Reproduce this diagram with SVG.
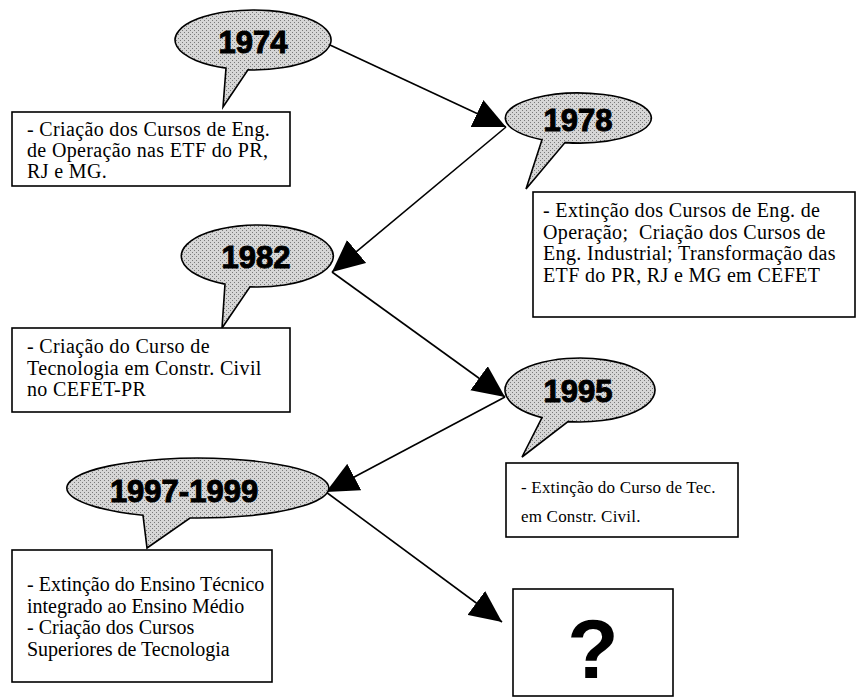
<svg xmlns="http://www.w3.org/2000/svg" width="861" height="697" viewBox="0 0 861 697">
<style>
.box{fill:#fff;stroke:#000;stroke-width:1.6}
.bub{fill:url(#dots);stroke:#000;stroke-width:1.6;stroke-linejoin:miter}
.yr{font-family:"Liberation Sans",Arial,sans-serif;font-weight:bold;font-size:31px;fill:#000;stroke:#000;stroke-width:1;text-anchor:middle}
.tx{font-family:"Liberation Serif","Times New Roman",serif;font-size:20px;letter-spacing:0.35px;fill:#000;white-space:pre}
.con{stroke:#000;stroke-width:1.6;fill:none;marker-end:url(#ah)}
</style>
<defs>
<pattern id="dots" width="4" height="4" patternUnits="userSpaceOnUse">
<rect width="4" height="4" fill="#d6d6d6"/>
<rect x="0" y="0" width="1" height="1" fill="#7a7a7a"/>
<rect x="2" y="2" width="1" height="1" fill="#7a7a7a"/>
</pattern>
<marker id="ah" markerUnits="userSpaceOnUse" markerWidth="32" markerHeight="30" viewBox="0 0 30 28" refX="30" refY="14" orient="auto">
<path d="M0,0 L30,14 L0,28 Z" fill="#000"/>
</marker>
</defs>
<rect width="861" height="697" fill="#fff"/>

<g id="connectors">
<line class="con" x1="330" y1="45" x2="506" y2="127"/>
<line class="con" x1="506" y1="127" x2="332" y2="272"/>
<line class="con" x1="332" y1="272" x2="505" y2="397"/>
<line class="con" x1="505" y1="397" x2="326" y2="492"/>
<line class="con" x1="326" y1="492" x2="502" y2="622"/>
</g>

<g id="bubble1974">
<path class="bub" d="M226,68.1 L223,107 L248,69.9 A78,30 0 1 0 226,68.1 Z"/>
<text class="yr" x="253" y="53">1974</text>
</g>
<g id="box1974">
<rect class="box" x="12" y="112" width="278" height="74"/>
<text class="tx" x="27" y="136">- Criação dos Cursos de Eng.</text>
<text class="tx" x="27" y="157">de Operação nas ETF do PR,</text>
<text class="tx" x="27" y="178">RJ e MG.</text>
</g>

<g id="bubble1978">
<path class="bub" d="M542,139.7 L526,189 L565,142.6 A73,25 0 1 0 542,139.7 Z"/>
<text class="yr" x="578" y="131">1978</text>
</g>
<g id="box1978">
<rect class="box" x="533" y="192" width="322" height="125"/>
<text class="tx" x="543" y="217">- Extinção dos Cursos de Eng. de</text>
<text class="tx" x="543" y="238.5">Operação;  Criação dos Cursos de</text>
<text class="tx" x="543" y="260">Eng. Industrial; Transformação das</text>
<text class="tx" x="543" y="281.5">ETF do PR, RJ e MG em CEFET</text>
</g>

<g id="bubble1982">
<path class="bub" d="M225,284.1 L222,328 L250,286.9 A76,31 0 1 0 225,284.1 Z"/>
<text class="yr" x="256" y="268">1982</text>
</g>
<g id="box1982">
<rect class="box" x="12" y="328" width="278" height="84"/>
<text class="tx" x="27" y="353">- Criação do Curso de</text>
<text class="tx" x="27" y="374.5">Tecnologia em Constr. Civil</text>
<text class="tx" x="27" y="396">no CEFET-PR</text>
</g>

<g id="bubble1995">
<path class="bub" d="M542,417.6 L522,457 L568,421.6 A75,32 0 1 0 542,417.6 Z"/>
<text class="yr" x="578" y="402">1995</text>
</g>
<g id="box1995">
<rect class="box" x="506" y="463" width="232" height="74"/>
<text class="tx" x="521" y="493" style="font-size:17px;letter-spacing:0.2px">- Extinção do Curso de Tec.</text>
<text class="tx" x="521" y="522" style="font-size:17px;letter-spacing:0.2px">em Constr. Civil.</text>
</g>

<g id="bubble1997">
<path class="bub" d="M143,515.3 L147,548 L190,518 A131,30 0 1 0 143,515.3 Z"/>
<text class="yr" x="184" y="502">1997-1999</text>
</g>
<g id="box1997">
<rect class="box" x="12" y="550" width="260" height="132"/>
<text class="tx" x="27" y="591" style="letter-spacing:0">- Extinção do Ensino Técnico</text>
<text class="tx" x="27" y="612.5" style="letter-spacing:0">integrado ao Ensino Médio</text>
<text class="tx" x="27" y="634" style="letter-spacing:0">- Criação dos Cursos</text>
<text class="tx" x="27" y="655.5" style="letter-spacing:0">Superiores de Tecnologia</text>
</g>

<g id="boxQ">
<rect class="box" x="513" y="589" width="160" height="107"/>
<text x="593" y="678" style="font-family:'Liberation Sans',Arial,sans-serif;font-weight:bold;font-size:84px;text-anchor:middle;fill:#000">?</text>
</g>
</svg>
